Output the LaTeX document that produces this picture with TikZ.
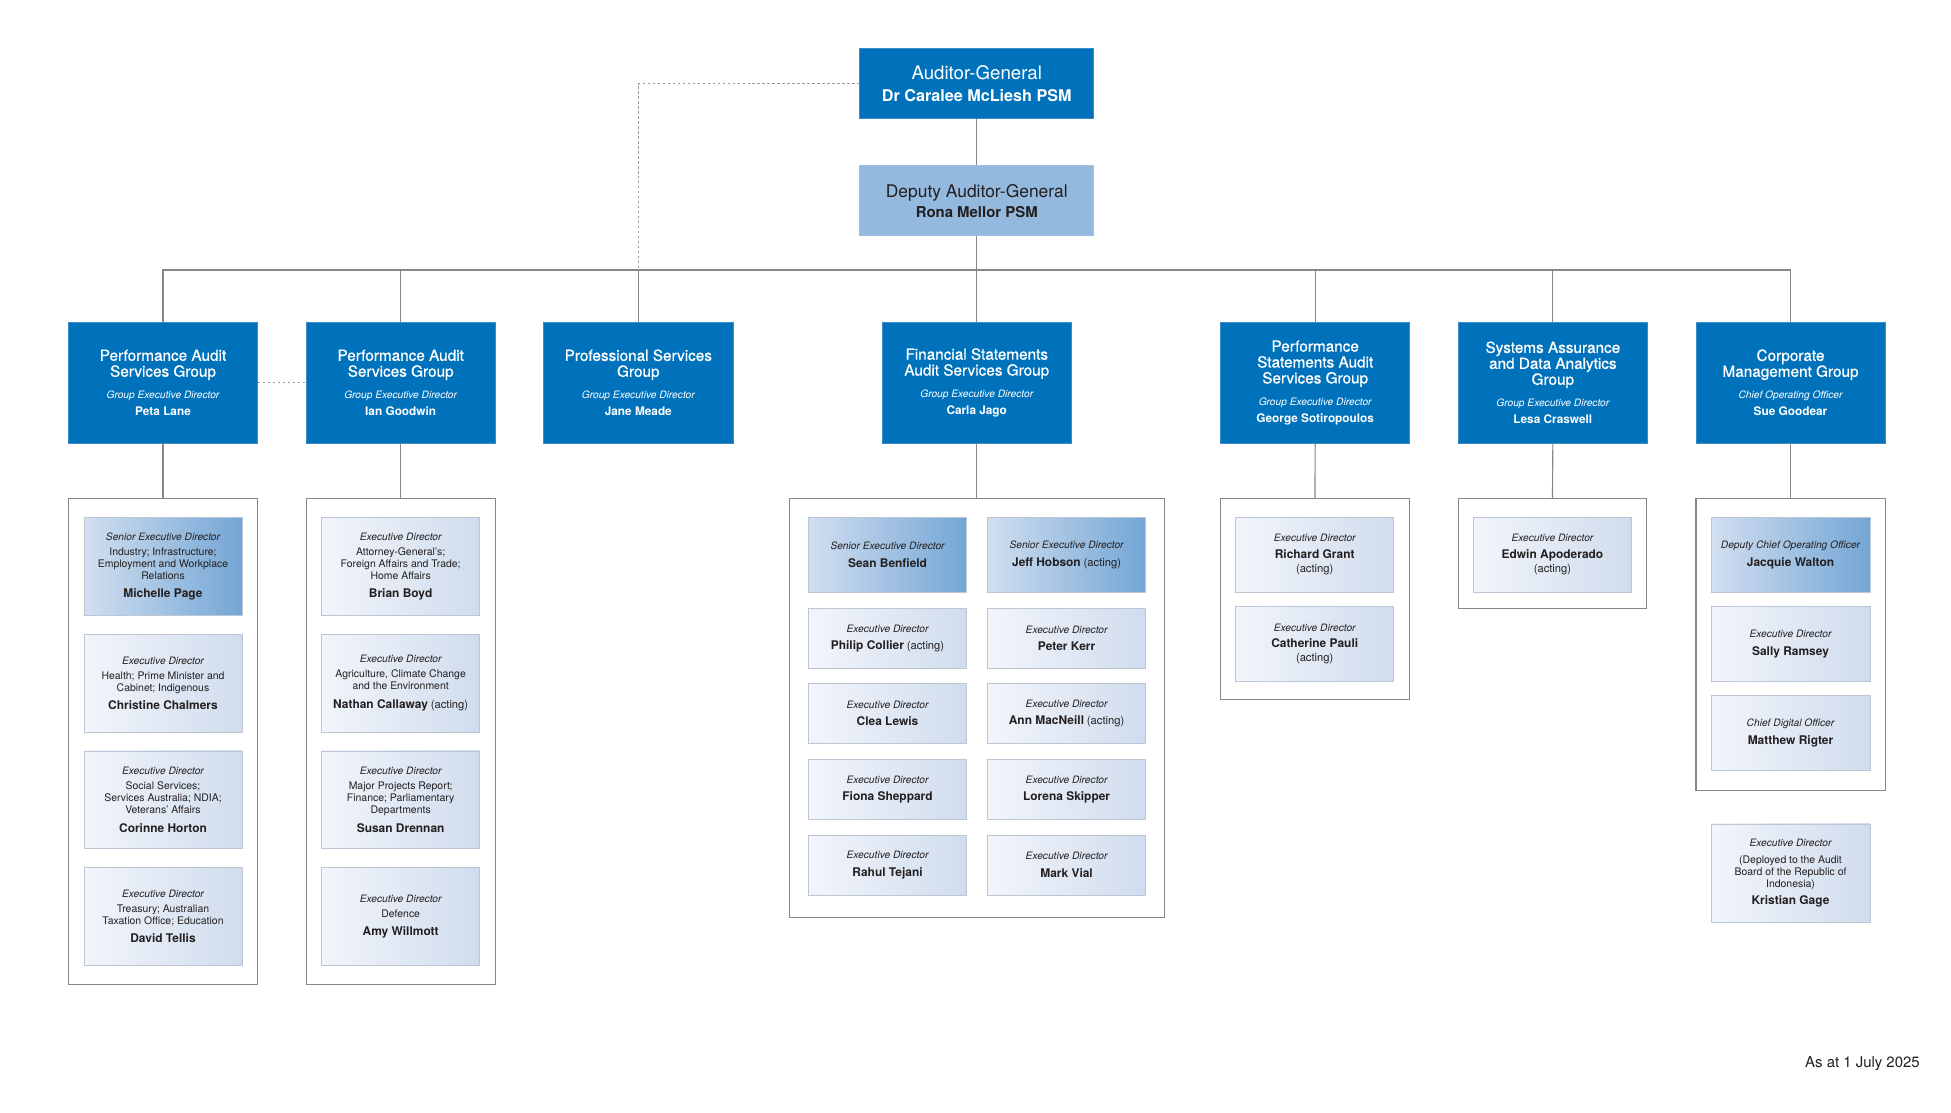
\documentclass[tikz,border=0pt]{standalone}
\usepackage{fontspec}
\setmainfont{TeX Gyre Heros}
\newfontfamily\medfont{TeX Gyre Heros}[FakeBold=0.7]
\definecolor{agblue}{RGB}{0,114,188}
\definecolor{agedge}{RGB}{60,140,200}
\definecolor{dagblue}{RGB}{148,185,222}
\definecolor{edL}{RGB}{242,245,251}
\definecolor{edR}{RGB}{208,220,237}
\definecolor{sedL}{RGB}{210,223,240}
\definecolor{sedR}{RGB}{115,166,213}
\definecolor{edline}{RGB}{188,198,212}
\definecolor{boxline}{RGB}{135,135,135}
\definecolor{connc}{RGB}{135,135,135}
\definecolor{dotc}{RGB}{155,155,155}
\definecolor{txt}{RGB}{35,31,32}
\newcommand\rl[1]{{\fontsize{8.2}{9.6}\selectfont\itshape #1}}
\newcommand\nm[1]{{\fontsize{9.6}{9.6}\selectfont\bfseries #1}}
\newcommand\act{{\fontsize{9}{9.6}\selectfont(acting)}}
\newcommand\gi[1]{{\rmfamily\fontsize{8.2}{12.8}\selectfont\itshape #1}}
\newcommand\gn[1]{{\rmfamily\fontsize{9.5}{12.8}\selectfont\bfseries #1}}
\tikzset{
  agbox/.style={fill=agblue, draw=agedge, line width=0.5pt, text=white, inner sep=0pt, align=center,
    minimum width=188pt, minimum height=56.5pt, font=\fontsize{15}{17.5}\selectfont},
  dagbox/.style={fill=dagblue, draw=dagblue!90!white, line width=0.5pt, text=txt, inner sep=0pt, align=center,
    minimum width=188pt, minimum height=56.3pt, font=\fontsize{14}{16}\selectfont},
  gbox/.style={fill=agblue, draw=agedge, line width=0.5pt, text=white, inner sep=0pt, align=center,
    minimum width=152pt, minimum height=97pt, font=\medfont\fontsize{12.3}{12.8}\selectfont},
  contbox/.style={draw=boxline, fill=white, line width=0.9pt, inner sep=0pt},
  edbox/.style={left color=edL, right color=edR, draw=edline, line width=0.6pt, inner sep=0pt,
    align=center, text=txt, minimum width=127pt, font=\fontsize{8.4}{9.6}\selectfont},
  sedbox/.style={edbox, left color=sedL, right color=sedR},
  conn/.style={draw=connc, line width=0.9pt},
  dotl/.style={draw=dotc, line width=0.8pt, dash pattern=on 2pt off 2pt},
}
\begin{document}
\begin{tikzpicture}[x=1pt, y=-1pt]
\fill[white] (0,0) rectangle (1568,894);
\useasboundingbox (0,0) rectangle (1568,894);

% top
\node[agbox] (ag) at (785,67.2) {Auditor-General\\{\fontsize{13}{17.5}\selectfont\bfseries Dr Caralee McLiesh PSM}};
\node[dagbox] (dag) at (785,161.3) {Deputy Auditor-General\\{\fontsize{12}{16}\selectfont\bfseries Rona Mellor PSM}};

% groups
\node[gbox] (g1) at (131,307.5) {Performance Audit\\Services Group\\[5pt]\gi{Group Executive Director}\\[0.6pt]\gn{Peta Lane}};
\node[gbox] (g2) at (322,307.5) {Performance Audit\\Services Group\\[5pt]\gi{Group Executive Director}\\[0.6pt]\gn{Ian Goodwin}};
\node[gbox] (g3) at (513,307.5) {Professional Services\\Group\\[5pt]\gi{Group Executive Director}\\[0.6pt]\gn{Jane Meade}};
\node[gbox] (g4) at (785,307.5) {Financial Statements\\Audit Services Group\\[5pt]\gi{Group Executive Director}\\[0.6pt]\gn{Carla Jago}};
\node[gbox] (g5) at (1057,307.5) {Performance\\Statements Audit\\Services Group\\[5pt]\gi{Group Executive Director}\\[0.6pt]\gn{George Sotiropoulos}};
\node[gbox] (g6) at (1248,307.5) {Systems Assurance\\and Data Analytics\\Group\\[5pt]\gi{Group Executive Director}\\[0.6pt]\gn{Lesa Craswell}};
\node[gbox] (g7) at (1439,307.5) {Corporate\\Management Group\\[5pt]\gi{Chief Operating Officer}\\[0.6pt]\gn{Sue Goodear}};

% connectors top
\coordinate (bus) at (785,217);
\draw[conn] (ag.south) -- (dag.north);
\draw[conn] (dag.south) -- (bus);
\draw[conn] (g1.north) |- (bus) -| (g7.north);
\foreach \g in {g2,g3,g4,g5,g6} {\draw[conn] (\g.north) -- (\g.north |- bus);}
\draw[dotl] (ag.west) -| (g3.north |- bus);
\draw[dotl] (g1.east) -- (g2.west);

% containers
\node[contbox, minimum width=152pt, minimum height=391pt] (c1) at (131,596) {};
\node[contbox, minimum width=152pt, minimum height=391pt] (c2) at (322,596) {};
\node[contbox, minimum width=301.4pt, minimum height=336.7pt] (c4) at (785,568.9) {};
\node[contbox, minimum width=151.6pt, minimum height=162pt] (c5) at (1056.8,481.5) {};
\node[contbox, minimum width=151.4pt, minimum height=88.4pt] (c6) at (1247.7,444.7) {};
\node[contbox, minimum width=152pt, minimum height=235pt] (c7) at (1439,518) {};
\foreach \g/\c in {g1/c1,g2/c2,g4/c4,g5/c5,g6/c6,g7/c7} {\draw[conn] (\g.south) -- (\c.north);}

% Performance Audit 1
\node[sedbox, minimum height=78.5pt] (pa1a) at (131,455.2) {\rl{Senior Executive Director}\\[2.5pt]Industry; Infrastructure;\\Employment and Workplace\\Relations\\[5pt]\nm{Michelle Page}};
\node[edbox, minimum height=78.5pt] (pa1b) at (131,549) {\rl{Executive Director}\\[2.5pt]Health; Prime Minister and\\Cabinet; Indigenous\\[5pt]\nm{Christine Chalmers}};
\node[edbox, minimum height=78.5pt] (pa1c) at (131,642.8) {\rl{Executive Director}\\[2.5pt]Social Services;\\Services Australia; NDIA;\\Veterans’ Affairs\\[5pt]\nm{Corinne Horton}};
\node[edbox, minimum height=78.5pt] (pa1d) at (131,736.5) {\rl{Executive Director}\\[2.5pt]Treasury; Australian\\Taxation Office; Education\\[5pt]\nm{David Tellis}};

% Performance Audit 2
\node[edbox, minimum height=78.5pt] (pa2a) at (322,455.2) {\rl{Executive Director}\\[2.5pt]Attorney-General’s;\\Foreign Affairs and Trade;\\Home Affairs\\[5pt]\nm{Brian Boyd}};
\node[edbox, minimum height=78.5pt] (pa2b) at (322,549) {\rl{Executive Director}\\[2.5pt]Agriculture, Climate Change\\and the Environment\\[5pt]\nm{Nathan Callaway} \act};
\node[edbox, minimum height=78.5pt] (pa2c) at (322,642.8) {\rl{Executive Director}\\[2.5pt]Major Projects Report;\\Finance; Parliamentary\\Departments\\[5pt]\nm{Susan Drennan}};
\node[edbox, minimum height=78.5pt] (pa2d) at (322,736.5) {\rl{Executive Director}\\[2.5pt]Defence\\[5pt]\nm{Amy Willmott}};

% Financial Statements
\node[sedbox, minimum height=60.2pt] (fs1) at (713.3,445.9) {\rl{Senior Executive Director}\\[4.4pt]\nm{Sean Benfield}};
\node[sedbox, minimum height=60.2pt] (fs2) at (857.2,445.9) {\rl{Senior Executive Director}\\[4.4pt]\nm{Jeff Hobson} \act};
\node[edbox, minimum height=48.2pt] (fs3) at (713.3,513) {\rl{Executive Director}\\[4.4pt]\nm{Philip Collier} \act};
\node[edbox, minimum height=48.2pt] (fs4) at (857.2,513) {\rl{Executive Director}\\[4.4pt]\nm{Peter Kerr}};
\node[edbox, minimum height=48.2pt] (fs5) at (713.3,573.3) {\rl{Executive Director}\\[4.4pt]\nm{Clea Lewis}};
\node[edbox, minimum height=48.2pt] (fs6) at (857.2,573.3) {\rl{Executive Director}\\[4.4pt]\nm{Ann MacNeill} \act};
\node[edbox, minimum height=48.2pt] (fs7) at (713.3,634.4) {\rl{Executive Director}\\[4.4pt]\nm{Fiona Sheppard}};
\node[edbox, minimum height=48.2pt] (fs8) at (857.2,634.4) {\rl{Executive Director}\\[4.4pt]\nm{Lorena Skipper}};
\node[edbox, minimum height=48.2pt] (fs9) at (713.3,695.2) {\rl{Executive Director}\\[4.4pt]\nm{Rahul Tejani}};
\node[edbox, minimum height=48.2pt] (fs10) at (857.2,695.2) {\rl{Executive Director}\\[4.4pt]\nm{Mark Vial}};

% Performance Statements
\node[edbox, minimum height=60.2pt] (ps1) at (1056.6,445.9) {\rl{Executive Director}\\[3.8pt]\nm{Richard Grant}\\[1.7pt]\act};
\node[edbox, minimum height=60.5pt] (ps2) at (1056.6,517.5) {\rl{Executive Director}\\[3.8pt]\nm{Catherine Pauli}\\[1.7pt]\act};

% Systems Assurance
\node[edbox, minimum height=60.2pt] (sa1) at (1247.7,445.9) {\rl{Executive Director}\\[3.8pt]\nm{Edwin Apoderado}\\[1.7pt]\act};

% Corporate Management
\node[sedbox, minimum width=127.8pt, minimum height=60.2pt] (cm1) at (1439,445.9) {\rl{Deputy Chief Operating Officer}\\[4.4pt]\nm{Jacquie Walton}};
\node[edbox, minimum width=127.8pt, minimum height=60.5pt] (cm2) at (1439,517.5) {\rl{Executive Director}\\[4.4pt]\nm{Sally Ramsey}};
\node[edbox, minimum width=127.8pt, minimum height=60.6pt] (cm3) at (1439,589.1) {\rl{Chief Digital Officer}\\[4.4pt]\nm{Matthew Rigter}};
\node[edbox, minimum width=127.8pt, minimum height=79pt] (kg) at (1439,701.7) {\rl{Executive Director}\\[3.8pt](Deployed to the Audit\\Board of the Republic of\\Indonesia)\\[4.5pt]\nm{Kristian Gage}};

% date
\node[anchor=east, inner sep=0pt, text=txt, font=\fontsize{12}{14}\selectfont] (date) at (1543,854.5) {As at 1 July 2025};
\end{tikzpicture}
\end{document}
